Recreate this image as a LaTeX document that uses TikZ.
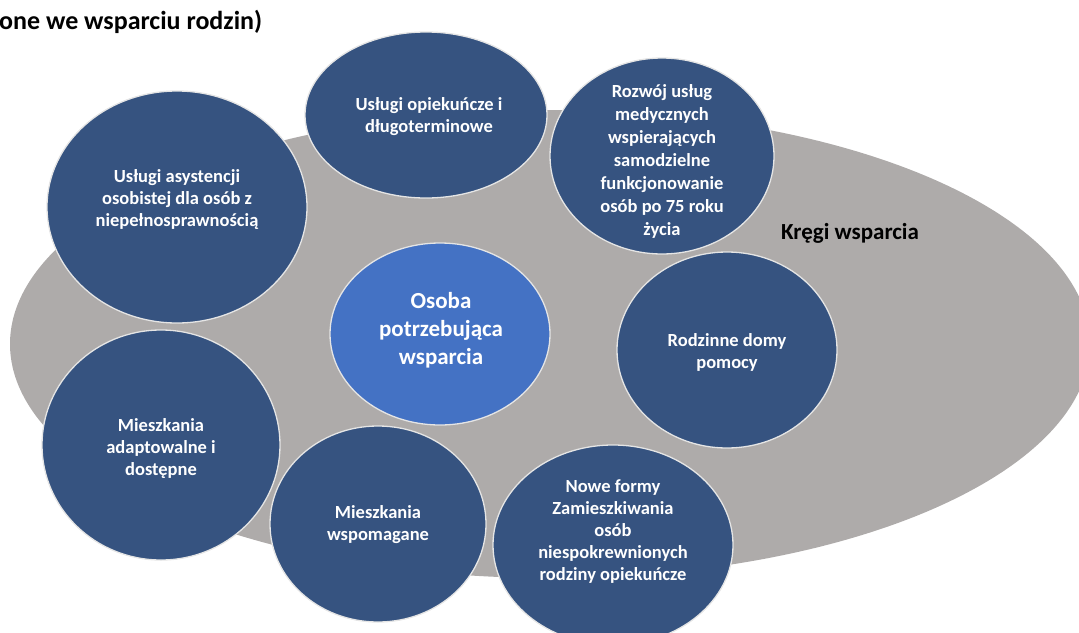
\documentclass[tikz,border=0pt]{standalone}
\usepackage{fontspec}
\setmainfont{Carlito}
\definecolor{szary}{RGB}{174,171,170}
\definecolor{granat}{RGB}{54,83,128}
\definecolor{niebieski}{RGB}{68,114,196}
\begin{document}
\begin{tikzpicture}[x=1pt,y=-1pt,
        kolo/.style={fill=granat,draw=white!90!black,line width=1.3pt},
        opis/.style={text=white,align=center,font=\bfseries\fontsize{18.5}{22}\selectfont}]
        \useasboundingbox (0,0) rectangle (1079,632);
        \clip (0,0) rectangle (1079,632);

        \fill[szary] (550,344) ellipse (540 and 234);

        \foreach \x/\y/\rx/\ry in {426/115/121/83, 177/207/130/116, 662/156/112/98,
                727/350/110/98, 161/445/119/115, 378/524/108/98, 613/545/120/100}
            {
                \draw[kolo] (\x,\y) ellipse [x radius=\rx, y radius=\ry];
            }
        \draw[kolo,fill=niebieski] (440,334) ellipse (110 and 91);

        \node (opiek) at (429,117)[opis]{Usługi opiekuńcze i\\długoterminowe};
        \node (asyst) at (177,200)[opis]{Usługi asystencji\\osobistej dla osób z\\niepełnosprawnością};
        \node (rozwoj) at (662,161)[opis,font=\bfseries\fontsize{18.5}{23}\selectfont]{Rozwój usług\\medycznych\\wspierających\\samodzielne\\funkcjonowanie\\osób po 75 roku\\życia};
        \node (osoba) at (441,330)[opis,font=\bfseries\fontsize{23}{28}\selectfont]{Osoba\\potrzebująca\\wsparcia};
        \node (domy) at (727,352)[opis]{Rodzinne domy\\pomocy};
        \node (adapt) at (161,449)[opis]{Mieszkania\\adaptowalne i\\dostępne};
        \node (wspom) at (378,525)[opis]{Mieszkania\\wspomagane};
        \node (nowe) at (613,532)[opis]{Nowe formy\\Zamieszkiwania\\osób\\niespokrewnionych\\rodziny opiekuńcze};

        \node (kregi) at (850,233)[font=\bfseries\fontsize{23}{28}\selectfont]{Kręgi wsparcia};
        \node (tytul) at (-1,29)[anchor=base west,inner sep=0pt,font=\bfseries\fontsize{26}{30}\selectfont]{one we wsparciu rodzin)};
    \end{tikzpicture}
\end{document}
